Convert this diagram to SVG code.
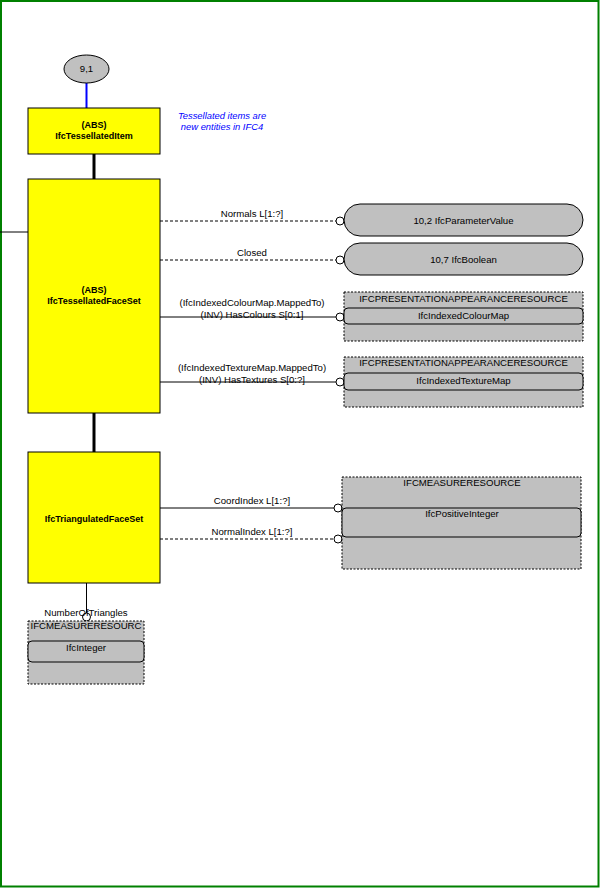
<svg xmlns="http://www.w3.org/2000/svg" width="600" height="888" viewBox="0 0 600 888">
<style>
text{font-family:"Liberation Sans",Arial,sans-serif;font-size:9.6px;fill:#000;text-anchor:middle}
.b{font-weight:bold;font-size:9px}
.note{font-style:italic;fill:#0000ff;font-size:9.4px}
.ent{fill:#ffff00;stroke:#000;stroke-width:1}
.grey{fill:#c0c0c0;stroke:#000;stroke-width:1}
.dbox{fill:#c0c0c0;stroke:#000;stroke-width:1;stroke-dasharray:2,1.5}
.ln{stroke:#000;stroke-width:1;fill:none}
.dl{stroke:#000;stroke-width:1;fill:none;stroke-dasharray:3,2}
.thick{stroke:#000;stroke-width:3;fill:none}
.circ{fill:#fff;stroke:#000;stroke-width:1}
</style>
<rect x="1" y="1" width="597.5" height="885.5" fill="#fff" stroke="#008000" stroke-width="2"/>
<g id="connectors">
<line x1="86.5" y1="83" x2="86.5" y2="108" stroke="#0000ff" stroke-width="2"/>
<line class="thick" x1="94" y1="154" x2="94" y2="179"/>
<line class="thick" x1="94" y1="413" x2="94" y2="452"/>
<line class="ln" x1="0" y1="232" x2="28" y2="232"/>
<line class="dl" x1="160" y1="221" x2="336" y2="221"/>
<circle class="circ" cx="340" cy="221" r="4"/>
<text x="252" y="217">Normals L[1:?]</text>
<line class="dl" x1="160" y1="260" x2="336" y2="260"/>
<circle class="circ" cx="340" cy="260" r="4"/>
<text x="252" y="256">Closed</text>
<line class="ln" x1="160" y1="317" x2="336" y2="317"/>
<circle class="circ" cx="340" cy="317" r="4"/>
<text x="252" y="306">(IfcIndexedColourMap.MappedTo)</text>
<text x="252" y="318">(INV) HasColours S[0:1]</text>
<line class="ln" x1="160" y1="382" x2="336" y2="382"/>
<circle class="circ" cx="340" cy="382" r="4"/>
<text x="252" y="371">(IfcIndexedTextureMap.MappedTo)</text>
<text x="252" y="383">(INV) HasTextures S[0:?]</text>
<line class="ln" x1="160" y1="508" x2="334" y2="508"/>
<circle class="circ" cx="338" cy="508" r="4"/>
<text x="252" y="504">CoordIndex L[1:?]</text>
<line class="dl" x1="160" y1="539" x2="334" y2="539"/>
<circle class="circ" cx="338" cy="539" r="4"/>
<text x="252" y="535">NormalIndex L[1:?]</text>
<line class="ln" x1="86.5" y1="583" x2="86.5" y2="613"/>
<circle class="circ" cx="86.5" cy="617" r="4"/>
<text x="86" y="616">NumberOfTriangles</text>
</g>
<g id="ref91">
<ellipse class="grey" cx="86.5" cy="69" rx="22.5" ry="14"/>
<text x="86.5" y="72">9,1</text>
</g>
<g id="note">
<text class="note" x="222" y="119">Tessellated items are</text>
<text class="note" x="222" y="130">new entities in IFC4</text>
</g>
<g id="IfcTessellatedItem">
<rect class="ent" x="28" y="108" width="132" height="46"/>
<text class="b" x="94" y="128">(ABS)</text>
<text class="b" x="94" y="139">IfcTessellatedItem</text>
</g>
<g id="IfcTessellatedFaceSet">
<rect class="ent" x="28" y="179" width="132" height="234"/>
<text class="b" x="94" y="293">(ABS)</text>
<text class="b" x="94" y="304">IfcTessellatedFaceSet</text>
</g>
<g id="IfcTriangulatedFaceSet">
<rect class="ent" x="28" y="452" width="132" height="131"/>
<text class="b" x="94" y="522">IfcTriangulatedFaceSet</text>
</g>
<g id="IfcParameterValue">
<rect class="grey" x="344" y="204" width="239" height="32" rx="16" ry="16"/>
<text x="463.5" y="224">10,2 IfcParameterValue</text>
</g>
<g id="IfcBoolean">
<rect class="grey" x="344" y="243" width="239" height="32" rx="16" ry="16"/>
<text x="463.5" y="263">10,7 IfcBoolean</text>
</g>
<g id="IfcIndexedColourMap">
<rect class="dbox" x="344" y="292" width="239" height="49"/>
<text x="463.5" y="302">IFCPRESENTATIONAPPEARANCERESOURCE</text>
<rect class="grey" x="344" y="308" width="239" height="16" rx="4" ry="4"/>
<text x="463.5" y="319">IfcIndexedColourMap</text>
</g>
<g id="IfcIndexedTextureMap">
<rect class="dbox" x="344" y="357" width="239" height="50"/>
<text x="463.5" y="366">IFCPRESENTATIONAPPEARANCERESOURCE</text>
<rect class="grey" x="344" y="373" width="239" height="17" rx="4" ry="4"/>
<text x="463.5" y="384">IfcIndexedTextureMap</text>
</g>
<g id="IfcPositiveInteger">
<rect class="dbox" x="342" y="477" width="239" height="92"/>
<text x="462" y="486">IFCMEASURERESOURCE</text>
<rect class="grey" x="342" y="508" width="239" height="29" rx="4" ry="4"/>
<text x="462" y="517">IfcPositiveInteger</text>
</g>
<g id="IfcInteger">
<rect class="dbox" x="28" y="621" width="116" height="63"/>
<text x="86" y="629">IFCMEASURERESOURC</text>
<rect class="grey" x="28" y="641" width="116" height="21" rx="4" ry="4"/>
<text x="86" y="651">IfcInteger</text>
</g>
</svg>
